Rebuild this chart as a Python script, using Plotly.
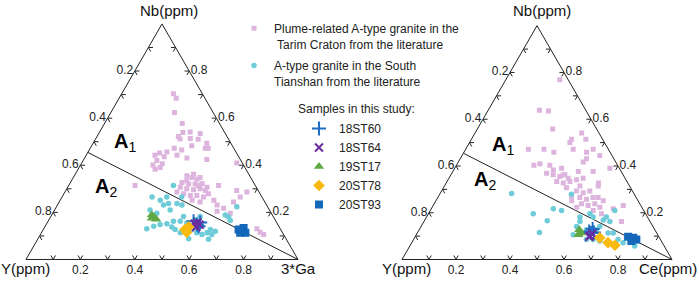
import plotly.graph_objects as go

# ---------------- data (fractions; third component = 1 - Nb - other) ----------------
# Left panel: Nb - Y - 3*Ga
tarim_L_nb = [0.704, 0.684, 0.624, 0.577, 0.522, 0.539, 0.511, 0.514, 0.510, 0.493, 0.472, 0.483,
              0.472, 0.465, 0.442, 0.452, 0.436, 0.420, 0.406, 0.401, 0.456, 0.442, 0.431, 0.424,
              0.410, 0.535, 0.314, 0.355, 0.348, 0.341, 0.327, 0.320, 0.320, 0.323, 0.307, 0.300,
              0.296, 0.300, 0.307, 0.279, 0.272, 0.272, 0.265, 0.286, 0.251, 0.244, 0.251, 0.231,
              0.217, 0.244, 0.293, 0.265, 0.196, 0.130, 0.106, 0.116, 0.362, 0.348, 0.279, 0.314,
              0.334, 0.314, 0.293, 0.390, 0.383, 0.541, 0.472, 0.286, 0.205]
tarim_L_ga = [0.190, 0.210, 0.234, 0.286, 0.299, 0.307, 0.311, 0.347, 0.378, 0.418, 0.434, 0.368,
              0.309, 0.340, 0.253, 0.265, 0.290, 0.271, 0.298, 0.266, 0.290, 0.334, 0.376, 0.453,
              0.570, 0.373, 0.244, 0.414, 0.436, 0.458, 0.410, 0.438, 0.462, 0.486, 0.414, 0.441,
              0.468, 0.490, 0.512, 0.440, 0.468, 0.492, 0.520, 0.412, 0.485, 0.518, 0.565, 0.587,
              0.618, 0.641, 0.628, 0.655, 0.653, 0.784, 0.821, 0.803, 0.435, 0.466, 0.531, 0.551,
              0.424, 0.477, 0.513, 0.298, 0.283, 0.333, 0.423, 0.669, 0.600]

tianshan_L_nb = [0.314, 0.265, 0.231, 0.251, 0.238, 0.210, 0.238, 0.231, 0.182, 0.162, 0.162, 0.152,
                 0.148, 0.130, 0.141, 0.138, 0.127, 0.155, 0.141, 0.127, 0.120, 0.113, 0.106, 0.086,
                 0.088, 0.169, 0.182, 0.189, 0.180, 0.166, 0.224, 0.127, 0.113, 0.196, 0.210, 0.265,
                 0.265, 0.106, 0.113]
tianshan_L_ga = [0.385, 0.331, 0.390, 0.368, 0.405, 0.425, 0.436, 0.458, 0.488, 0.461, 0.486, 0.442,
                 0.419, 0.379, 0.399, 0.467, 0.485, 0.514, 0.576, 0.614, 0.636, 0.609, 0.594, 0.628,
                 0.554, 0.537, 0.549, 0.638, 0.655, 0.668, 0.663, 0.546, 0.571, 0.383, 0.351, 0.385,
                 0.440, 0.630, 0.511]

s18ST60_L_nb = [0.162, 0.148, 0.157, 0.141]
s18ST60_L_ga = [0.535, 0.554, 0.562, 0.564]
s18ST64_L_nb = [0.152, 0.157, 0.138, 0.148]
s18ST64_L_ga = [0.544, 0.552, 0.557, 0.564]
s19ST17_L_nb = [0.189, 0.180, 0.171, 0.175]
s19ST17_L_ga = [0.368, 0.381, 0.393, 0.375]
s20ST78_L_nb = [0.127, 0.138, 0.116]
s20ST78_L_ga = [0.521, 0.529, 0.533]
s20ST93_L_nb = [0.127, 0.134, 0.113, 0.113]
s20ST93_L_ga = [0.718, 0.733, 0.750, 0.731]

# Right panel: Nb - Y - Ce
tarim_R_nb = [0.769, 0.638, 0.635, 0.558, 0.514, 0.541, 0.514, 0.500, 0.472, 0.472, 0.459, 0.472,
              0.459, 0.472, 0.431, 0.403, 0.403, 0.369, 0.362, 0.355, 0.362, 0.334, 0.327, 0.334,
              0.341, 0.348, 0.376, 0.327, 0.314, 0.307, 0.293, 0.286, 0.293, 0.272, 0.265, 0.258,
              0.265, 0.238, 0.231, 0.238, 0.224, 0.210, 0.196, 0.217, 0.162, 0.390, 0.445, 0.390,
              0.383, 0.410, 0.314, 0.251, 0.224, 0.265, 0.251, 0.362, 0.348, 0.376, 0.417, 0.231]
tarim_R_ce = [0.200, 0.190, 0.225, 0.279, 0.371, 0.395, 0.424, 0.372, 0.232, 0.290, 0.333, 0.398,
              0.454, 0.472, 0.468, 0.287, 0.346, 0.351, 0.379, 0.407, 0.422, 0.406, 0.434, 0.455,
              0.476, 0.497, 0.520, 0.564, 0.502, 0.456, 0.500, 0.528, 0.549, 0.492, 0.526, 0.554,
              0.575, 0.546, 0.574, 0.595, 0.621, 0.603, 0.641, 0.674, 0.732, 0.575, 0.510, 0.396,
              0.369, 0.306, 0.570, 0.503, 0.535, 0.594, 0.620, 0.416, 0.442, 0.465, 0.463, 0.704]

tianshan_R_nb = [0.282, 0.196, 0.116, 0.166, 0.217, 0.210, 0.279, 0.162, 0.106, 0.113, 0.127, 0.127,
                 0.169, 0.182, 0.162, 0.210, 0.086, 0.079, 0.086, 0.072, 0.058, 0.079, 0.196, 0.182,
                 0.182, 0.113, 0.141, 0.141, 0.113, 0.086]
tianshan_R_ce = [0.265, 0.388, 0.451, 0.455, 0.452, 0.486, 0.488, 0.578, 0.581, 0.608, 0.620, 0.656,
                 0.661, 0.666, 0.689, 0.683, 0.665, 0.693, 0.757, 0.783, 0.833, 0.829, 0.598, 0.568,
                 0.617, 0.726, 0.576, 0.662, 0.707, 0.640]

s18ST60_R_nb = [0.120, 0.130, 0.113, 0.116]
s18ST60_R_ce = [0.633, 0.641, 0.643, 0.653]
s18ST64_R_nb = [0.102, 0.110, 0.097]
s18ST64_R_ce = [0.645, 0.650, 0.645]
s19ST17_R_nb = [0.127, 0.113, 0.106]
s19ST17_R_ce = [0.593, 0.606, 0.600]
s20ST78_R_nb = [0.093, 0.072, 0.061]
s20ST78_R_ce = [0.686, 0.727, 0.758]
s20ST93_R_nb = [0.097, 0.093, 0.086, 0.079]
s20ST93_R_ce = [0.789, 0.810, 0.825, 0.810]

# A1/A2 boundary (Y/Nb = 1.2) : Nb, other
boundary_nb = [1 / 2.2, 0.0]
boundary_other = [0.0, 1.0]

tick_vals = [0.1, 0.2, 0.3, 0.4, 0.5, 0.6, 0.7, 0.8, 0.9]   # chevron tick positions
label_vals = [0.2, 0.4, 0.6, 0.8]                            # labelled positions
TICK_ARM = 0.017  # chevron tick arm length, in ternary units

legend_pink = "Plume-related A-type granite in the<br> Tarim Craton from the literature"
legend_cyan = "A-type granite in the South<br>Tianshan from the literature"

PINK = "#DDB4DD"
CYAN = "#6ECBD8"
INK = "#222222"
FONT = "Liberation Sans, Arial"

samples = [
    ("18ST60", dict(symbol="cross-thin", size=10, color="#1F6CC4", line=dict(width=2, color="#1F6CC4"))),
    ("18ST64", dict(symbol="x-thin", size=8, color="#6A2C9E", line=dict(width=2, color="#6A2C9E"))),
    ("19ST17", dict(symbol="triangle-up", size=9, color="#5FA843")),
    ("20ST78", dict(symbol="diamond", size=9, color="#F9BA10")),
    ("20ST93", dict(symbol="square", size=8, color="#1467B9")),
]
sample_L = [(s18ST60_L_nb, s18ST60_L_ga), (s18ST64_L_nb, s18ST64_L_ga), (s19ST17_L_nb, s19ST17_L_ga),
            (s20ST78_L_nb, s20ST78_L_ga), (s20ST93_L_nb, s20ST93_L_ga)]
sample_R = [(s18ST60_R_nb, s18ST60_R_ce), (s18ST64_R_nb, s18ST64_R_ce), (s19ST17_R_nb, s19ST17_R_ce),
            (s20ST78_R_nb, s20ST78_R_ce), (s20ST93_R_nb, s20ST93_R_ce)]


def rest(nb, other):
    return [1 - a - c for a, c in zip(nb, other)]


def chevrons():
    """Chevron tick marks (two inward arms along the grid directions) at every tick value."""
    d = TICK_ARM
    A, B, C = [], [], []
    for t in tick_vals:
        for pts in ([(t, 1 - t - d, d), (t, 1 - t, 0), (t - d, 1 - t, d)],      # left edge
                    [(d, 1 - t, t - d), (0, 1 - t, t), (d, 1 - t - d, t)],      # bottom edge
                    [(t, d, 1 - t - d), (t, 0, 1 - t), (t - d, d, 1 - t)]):     # right edge
            for p in pts:
                A.append(p[0]); B.append(p[1]); C.append(p[2])
            A.append(None); B.append(None); C.append(None)
    return A, B, C


fig = go.Figure()


def add_panel(sub, t_nb, t_o, c_nb, c_o, samp, show):
    ca, cb, cc = chevrons()
    fig.add_trace(go.Scatterternary(
        a=ca, b=cb, c=cc, mode="lines", line=dict(color=INK, width=1), connectgaps=False,
        showlegend=False, hoverinfo="skip", subplot=sub, cliponaxis=False))
    fig.add_trace(go.Scatterternary(
        a=boundary_nb, b=rest(boundary_nb, boundary_other), c=boundary_other, mode="lines",
        line=dict(color=INK, width=1), showlegend=False, hoverinfo="skip", subplot=sub))
    fig.add_trace(go.Scatterternary(
        a=t_nb, b=rest(t_nb, t_o), c=t_o, mode="markers", name=legend_pink,
        marker=dict(symbol="square", size=5, color=PINK), subplot=sub,
        showlegend=show, legend="legend", legendgroup="g1"))
    fig.add_trace(go.Scatterternary(
        a=c_nb, b=rest(c_nb, c_o), c=c_o, mode="markers", name=legend_cyan,
        marker=dict(symbol="circle", size=5.5, color=CYAN), subplot=sub,
        showlegend=show, legend="legend", legendgroup="g2"))
    for (name, mk), (nb, o) in zip(samples, samp):
        fig.add_trace(go.Scatterternary(
            a=nb, b=rest(nb, o), c=o, mode="markers", name=name, marker=mk, subplot=sub,
            showlegend=show, legend="legend2"))


add_panel("ternary", tarim_L_nb, tarim_L_ga, tianshan_L_nb, tianshan_L_ga, sample_L, True)
add_panel("ternary2", tarim_R_nb, tarim_R_ce, tianshan_R_nb, tianshan_R_ce, sample_R, False)


def axis():
    return dict(
        title=dict(text=""),
        tickmode="array", tickvals=label_vals,
        ticktext=[f"{1 - v:.1f}" for v in label_vals],
        ticks="", linecolor=INK, linewidth=1, showgrid=False,
        tickfont=dict(size=12, color=INK, family=FONT), min=0)


W, H = 699, 282
def dom(x0, x1, y0, y1):
    return dict(x=[x0 / W, x1 / W], y=[1 - y1 / H, 1 - y0 / H])

fig.update_layout(
    width=W, height=H, margin=dict(l=0, r=0, t=0, b=0, autoexpand=False),
    paper_bgcolor="white", plot_bgcolor="white",
    font=dict(family=FONT, color=INK),
    ternary=dict(sum=1, bgcolor="white", domain=dom(26, 298, 23.9, 259.5),
                 aaxis=axis(), baxis=axis(), caxis=axis()),
    ternary2=dict(sum=1, bgcolor="white", domain=dom(402, 672, 25.7, 259.5),
                  aaxis=axis(), baxis=axis(), caxis=axis()),
    legend=dict(x=234 / W, y=1 - 14 / H, xanchor="left", yanchor="top", valign="top",
                font=dict(size=12, color=INK), traceorder="grouped", tracegroupgap=3,
                bgcolor="rgba(0,0,0,0)"),
    legend2=dict(x=299 / W, y=1 - 114 / H, xanchor="left", yanchor="top",
                 font=dict(size=12, color=INK), bgcolor="rgba(0,0,0,0)"),
    showlegend=True,
)

annotations = []
for t, x, y, s in [("Samples in this study:", 296, 109, 12)]:
    annotations.append(dict(text=t, x=x / W, y=1 - y / H, xref="paper", yref="paper",
                            xanchor="left", yanchor="middle", showarrow=False,
                            font=dict(size=s, color=INK)))
# vertex titles
for t, x, y in [("Nb(ppm)", 169, 10), ("Y(ppm)", 25, 268), ("3*Ga", 298, 268),
                ("Nb(ppm)", 542, 10), ("Y(ppm)", 406, 268), ("Ce(ppm)", 668, 268)]:
    annotations.append(dict(text=t, x=x / W, y=1 - y / H, xref="paper", yref="paper",
                            xanchor="center", yanchor="middle", showarrow=False,
                            font=dict(size=15, color="#111")))
for x, y, sub in [(112, 142, "1"), (93, 187, "2"), (490, 145, "1"), (472, 180, "2")]:
    annotations.append(dict(text=f"<b>A</b><sub>{sub}</sub>", x=x / W, y=1 - y / H,
                            xref="paper", yref="paper", xanchor="left", yanchor="middle",
                            showarrow=False, font=dict(size=20, color="black")))
fig.update_layout(annotations=annotations)

fig.write_html("out.html", config={"displayModeBar": False},
               post_script="document.body.style.margin='0';document.body.style.padding='0';"
                           "document.body.style.overflow='hidden';")
